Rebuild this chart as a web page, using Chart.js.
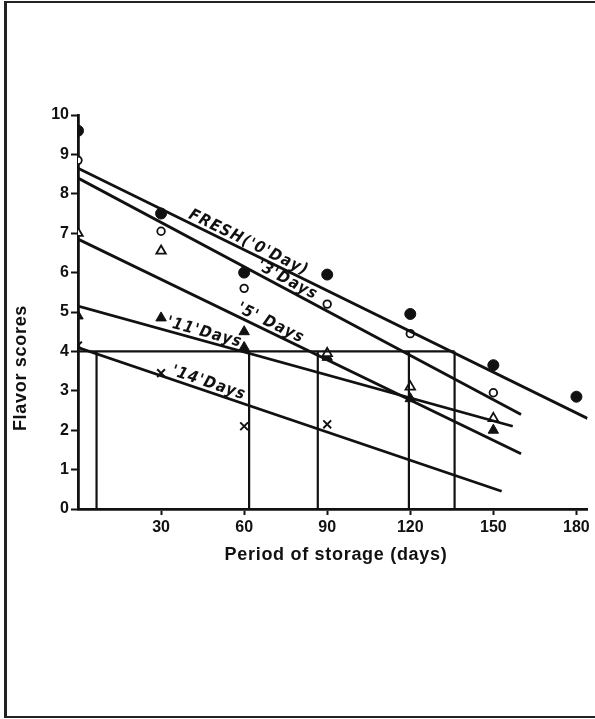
<!DOCTYPE html>
<html>
<head>
<meta charset="utf-8">
<script src="https://cdn.jsdelivr.net/npm/chart.js@4.4.1/dist/chart.umd.min.js"></script>
<style>
  html, body { margin: 0; padding: 0; background: #fff; overflow: hidden; }
  #frame { position: absolute; left: 4px; top: 1px; width: 588px; height: 713px;
           border-left: 3px solid #222; border-top: 2px solid #222; border-bottom: 2px solid #222; }
  #wrap { position: absolute; left: 0; top: 0; width: 595px; height: 719px; }
</style>
</head>
<body>
<div id="frame"></div>
<div id="wrap"><canvas id="myChart"></canvas></div>
<script>
var daysFresh = [0, 30, 60, 90, 120, 150, 180]
var fresh = [9.6, 7.5, 6.0, 5.95, 4.95, 3.65, 2.85]
var days3 = [0, 30, 60, 90, 120, 150]
var three = [8.85, 7.05, 5.6, 5.2, 4.45, 2.95]
var days5 = [0, 30, 90, 120, 150]
var five = [7.0, 6.55, 3.95, 3.1, 2.3]
var days11 = [0, 30, 60, 60, 90, 120, 150]
var eleven = [4.9, 4.85, 4.5, 4.1, 3.85, 2.8, 2.0]
var days14 = [0, 30, 60, 90]
var fourteen = [4.15, 3.45, 2.1, 2.15]

// fitted lines: [start day, start score, end day, end score]
var fitFresh = [0, 8.65, 184, 2.3]
var fit3 = [0, 8.4, 160, 2.4]
var fit5 = [0, 6.85, 160, 1.4]
var fit11 = [0, 5.15, 157, 2.1]
var fit14 = [0, 4.1, 153, 0.45]

// acceptability cut-off at score 4 and where each line crosses it
var cutScore = 4
var cutDays = [6.7, 61.8, 86.6, 119.5, 136]

var lineNames = ["FRESH('0'Day)", "'3'Days", "'5' Days", "'11'Days", "'14'Days"]
var labelDays = [39, 63.6, 56.5, 31.4, 33]

var xTicks = [30, 60, 90, 120, 150, 180]
var yTicks = [0, 1, 2, 3, 4, 5, 6, 7, 8, 9, 10]

function pts(xs, ys) {
    return xs.map(function (x, i) { return { x: x, y: ys[i] } })
}
function fitPts(f) {
    return [{ x: f[0], y: f[1] }, { x: f[2], y: f[3] }]
}

var guides = [{ x: 0, y: cutScore }, { x: cutDays[cutDays.length - 1], y: cutScore }]
cutDays.forEach(function (d) {
    guides.push({ x: d, y: null })
    guides.push({ x: d, y: 0 })
    guides.push({ x: d, y: cutScore })
})

function fitSet(f) {
    return { data: fitPts(f), showLine: true, borderColor: '#111', borderWidth: 2.8, pointRadius: 0 }
}

var labelPlugin = {
    id: 'lineLabels',
    afterDatasetsDraw: function (chart) {
        var ctx = chart.ctx, xs = chart.scales.x, ys = chart.scales.y
        var fits = [fitFresh, fit3, fit5, fit11, fit14]
        ctx.save()
        ctx.fillStyle = '#111'
        ctx.font = 'italic bold 16px "DejaVu Sans Condensed"'
        ctx.letterSpacing = '1.2px'
        ctx.textAlign = 'left'
        ctx.textBaseline = 'alphabetic'
        for (var i = 0; i < fits.length; i++) {
            var f = fits[i]
            var x1 = xs.getPixelForValue(f[0]), y1 = ys.getPixelForValue(f[1])
            var x2 = xs.getPixelForValue(f[2]), y2 = ys.getPixelForValue(f[3])
            var d = labelDays[i]
            var v = f[1] + (f[3] - f[1]) * (d - f[0]) / (f[2] - f[0])
            ctx.save()
            ctx.translate(xs.getPixelForValue(d), ys.getPixelForValue(v))
            ctx.rotate(Math.atan2(y2 - y1, x2 - x1))
            ctx.fillText(lineNames[i], 0, -4)
            ctx.restore()
        }
        // axis titles
        ctx.font = 'bold 18px "Liberation Sans"'
        ctx.letterSpacing = '0.7px'
        ctx.textAlign = 'center'
        ctx.textBaseline = 'middle'
        ctx.fillText('Period of storage (days)', 336, 555)
        ctx.translate(21, 368)
        ctx.rotate(-Math.PI / 2)
        ctx.fillText('Flavor scores', 0, 0)
        ctx.restore()
    }
}

var ctx = document.getElementById('myChart').getContext('2d')

var chart = new Chart(ctx, {
    type: 'scatter',
    data: {
        datasets: [
            fitSet(fitFresh), fitSet(fit3), fitSet(fit5), fitSet(fit11), fitSet(fit14),
            {
                data: guides, showLine: true, spanGaps: false,
                borderColor: '#111', borderWidth: 2.2, pointRadius: 0
            },
            {
                label: 'Fresh', data: pts(daysFresh, fresh), pointStyle: 'circle',
                pointRadius: 5.5, backgroundColor: '#111', borderColor: '#111', borderWidth: 1
            },
            {
                label: '3 Days', data: pts(days3, three), pointStyle: 'circle',
                pointRadius: 3.8, backgroundColor: '#fff', borderColor: '#111', borderWidth: 1.8
            },
            {
                label: '5 Days', data: pts(days5, five), pointStyle: 'triangle',
                pointRadius: 5.5, backgroundColor: '#fff', borderColor: '#111', borderWidth: 1.8
            },
            {
                label: '11 Days', data: pts(days11, eleven), pointStyle: 'triangle',
                pointRadius: 6, backgroundColor: '#111', borderColor: '#111', borderWidth: 1
            },
            {
                label: '14 Days', data: pts(days14, fourteen), pointStyle: 'crossRot',
                pointRadius: 5.5, borderColor: '#111', borderWidth: 2
            }
        ]
    },
    options: {
        responsive: true,
        maintainAspectRatio: false,
        animation: false,
        layout: { padding: { left: 0, top: 115, right: 0, bottom: 150 } },
        plugins: { legend: { display: false }, tooltip: { enabled: false } },
        scales: {
            x: {
                type: 'linear', min: 0, max: 184,
                afterBuildTicks: function (s) { s.ticks = xTicks.map(function (v) { return { value: v } }) },
                afterFit: function (s) { s.height = 60 },
                border: { color: '#111', width: 2.8 },
                grid: { display: true, drawOnChartArea: false, drawTicks: true, tickLength: 6, tickColor: '#111', tickWidth: 2 },
                ticks: { color: '#111', padding: 3, maxRotation: 0, font: { family: 'Liberation Sans', size: 16, weight: 'bold' } }
            },
            y: {
                type: 'linear', min: 0, max: 10,
                afterBuildTicks: function (s) { s.ticks = yTicks.map(function (v) { return { value: v } }) },
                afterFit: function (s) { s.width = 78 },
                border: { color: '#111', width: 2.8 },
                grid: { display: true, drawOnChartArea: false, drawTicks: true, tickLength: 7, tickColor: '#111', tickWidth: 2 },
                ticks: { color: '#111', padding: 2, font: { family: 'Liberation Sans', size: 16, weight: 'bold' } }
            }
        }
    },
    plugins: [labelPlugin]
});
</script>
</body>
</html>
